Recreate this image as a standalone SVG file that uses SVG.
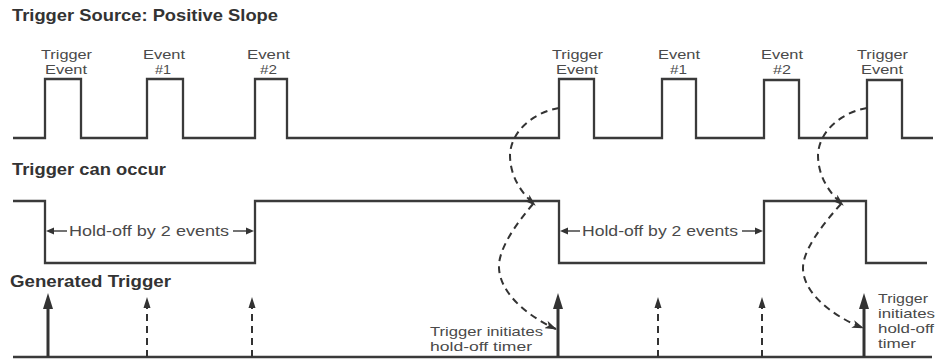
<svg xmlns="http://www.w3.org/2000/svg" width="939" height="360" viewBox="0 0 939 360">
<defs>
<style>
.bg{fill:#ffffff}
.title{font-family:"Liberation Sans",Arial,sans-serif;font-weight:bold;font-size:17px;fill:#333333}
.lbl{font-family:"Liberation Sans",Arial,sans-serif;font-size:13.4px;fill:#4a4a4a}
.hold{font-family:"Liberation Sans",Arial,sans-serif;font-size:14.5px;fill:#4a4a4a}
.wave{fill:none;stroke:#3a3a3a;stroke-width:2.3;stroke-linejoin:miter}
.shaft{stroke:#333333;stroke-width:3}
.dshaft{stroke:#333333;stroke-width:2;stroke-dasharray:7 5}
.head{fill:#333333}
.curve{fill:none;stroke:#333333;stroke-width:2;stroke-dasharray:7 5}
.hl{stroke:#444444;stroke-width:1.5}
</style>
<marker id="ah" viewBox="0 0 12 8" refX="11" refY="4" markerWidth="12" markerHeight="8" markerUnits="userSpaceOnUse" orient="auto">
<path d="M0,0 L12,4 L0,8 L3,4 z" fill="#333333" stroke="none"/>
</marker>
</defs>
<rect class="bg" x="0" y="0" width="939" height="360"/>

<g id="title-source"><text class="title" x="12" y="21" textLength="266" lengthAdjust="spacingAndGlyphs">Trigger Source: Positive Slope</text></g>
<g id="title-can-occur"><text class="title" x="12" y="175" textLength="154" lengthAdjust="spacingAndGlyphs">Trigger can occur</text></g>
<g id="title-generated"><text class="title" x="10" y="286.5" textLength="161" lengthAdjust="spacingAndGlyphs">Generated Trigger</text></g>

<g id="source-wave">
<path class="wave" d="M13,138 H45 V79 H81 V138 H147 V79 H183 V138 H255 V79 H287 V138 H559 V79 H594 V138 H662 V79 H696 V138 H764 V80 H799 V138 H867 V80 H902 V138 H933"/>
</g>

<g id="label-trigger-event-1"><text class="lbl" x="41" y="59" textLength="51" lengthAdjust="spacingAndGlyphs">Trigger</text><text class="lbl" x="45" y="74" textLength="42" lengthAdjust="spacingAndGlyphs">Event</text></g>
<g id="label-event1-a"><text class="lbl" x="143" y="59" textLength="42" lengthAdjust="spacingAndGlyphs">Event</text><text class="lbl" x="155" y="74" textLength="16" lengthAdjust="spacingAndGlyphs">#1</text></g>
<g id="label-event2-a"><text class="lbl" x="247" y="59" textLength="43" lengthAdjust="spacingAndGlyphs">Event</text><text class="lbl" x="260" y="74" textLength="17" lengthAdjust="spacingAndGlyphs">#2</text></g>
<g id="label-trigger-event-2"><text class="lbl" x="552" y="59" textLength="51" lengthAdjust="spacingAndGlyphs">Trigger</text><text class="lbl" x="556" y="74" textLength="42" lengthAdjust="spacingAndGlyphs">Event</text></g>
<g id="label-event1-b"><text class="lbl" x="658" y="59" textLength="42" lengthAdjust="spacingAndGlyphs">Event</text><text class="lbl" x="670" y="74" textLength="17" lengthAdjust="spacingAndGlyphs">#1</text></g>
<g id="label-event2-b"><text class="lbl" x="761" y="59" textLength="42" lengthAdjust="spacingAndGlyphs">Event</text><text class="lbl" x="773" y="74" textLength="18" lengthAdjust="spacingAndGlyphs">#2</text></g>
<g id="label-trigger-event-3"><text class="lbl" x="857" y="59" textLength="51" lengthAdjust="spacingAndGlyphs">Trigger</text><text class="lbl" x="861" y="74" textLength="42" lengthAdjust="spacingAndGlyphs">Event</text></g>

<g id="can-occur-wave">
<path class="wave" d="M13,201 H45 V263 H255 V201 H559 V263 H764 V201 H866 V263 H927"/>
</g>

<g id="holdoff-1">
<line class="hl" x1="52" y1="231" x2="67" y2="231"/>
<polygon class="head" points="46,231 54,227.5 54,234.5"/>
<text class="hold" x="69" y="236" textLength="160" lengthAdjust="spacingAndGlyphs">Hold-off by 2 events</text>
<line class="hl" x1="233" y1="231" x2="248" y2="231"/>
<polygon class="head" points="254,231 246,227.5 246,234.5"/>
</g>
<g id="holdoff-2">
<line class="hl" x1="566" y1="231" x2="580" y2="231"/>
<polygon class="head" points="560,231 568,227.5 568,234.5"/>
<text class="hold" x="582" y="236" textLength="156" lengthAdjust="spacingAndGlyphs">Hold-off by 2 events</text>
<line class="hl" x1="742" y1="231" x2="757" y2="231"/>
<polygon class="head" points="763,231 755,227.5 755,234.5"/>
</g>

<g id="generated-wave">
<line class="wave" x1="13" y1="357" x2="932" y2="357"/>
</g>

<g id="trigger-arrow-1"><line class="shaft" x1="48" y1="357" x2="48" y2="305"/><polygon class="head" points="48,293 53,309 43,309"/></g>
<g id="event-arrow-1a"><line class="dshaft" x1="147" y1="357" x2="147" y2="308"/><polygon class="head" points="147,297 150.5,308 143.5,308"/></g>
<g id="event-arrow-2a"><line class="dshaft" x1="252" y1="357" x2="252" y2="308"/><polygon class="head" points="252,297 255.5,308 248.5,308"/></g>
<g id="trigger-arrow-2"><line class="shaft" x1="558" y1="357" x2="558" y2="305"/><polygon class="head" points="558,293 563,309 553,309"/></g>
<g id="event-arrow-1b"><line class="dshaft" x1="658" y1="357" x2="658" y2="308"/><polygon class="head" points="658,297 661.5,308 654.5,308"/></g>
<g id="event-arrow-2b"><line class="dshaft" x1="762" y1="357" x2="762" y2="308"/><polygon class="head" points="762,297 765.5,308 758.5,308"/></g>
<g id="trigger-arrow-3"><line class="shaft" x1="864" y1="357" x2="864" y2="305"/><polygon class="head" points="864,293 869,309 859,309"/></g>

<g id="note-1">
<text class="lbl" x="430" y="336" textLength="113" lengthAdjust="spacingAndGlyphs">Trigger initiates</text>
<text class="lbl" x="430" y="351" textLength="102" lengthAdjust="spacingAndGlyphs">hold-off timer</text>
</g>
<g id="note-2">
<text class="lbl" x="878" y="303" textLength="50" lengthAdjust="spacingAndGlyphs">Trigger</text>
<text class="lbl" x="878" y="318" textLength="57" lengthAdjust="spacingAndGlyphs">initiates</text>
<text class="lbl" x="878" y="333" textLength="56" lengthAdjust="spacingAndGlyphs">hold-off</text>
<text class="lbl" x="878" y="348" textLength="38" lengthAdjust="spacingAndGlyphs">timer</text>
</g>

<g id="connectors">
<path class="curve" marker-end="url(#ah)" d="M559,108 C535,112 511,130 510,155 C510,175 520,192 535,205"/>
<path class="curve" marker-end="url(#ah)" d="M533,204 C515,225 498,250 499,268 C500,292 525,315 556,329"/>
<path class="curve" marker-end="url(#ah)" d="M867,108 C843,112 819,130 818,155 C818,175 828,192 843,205"/>
<path class="curve" marker-end="url(#ah)" d="M841,204 C822,225 803,250 803,268 C803,292 830,315 863,328"/>
</g>
</svg>
